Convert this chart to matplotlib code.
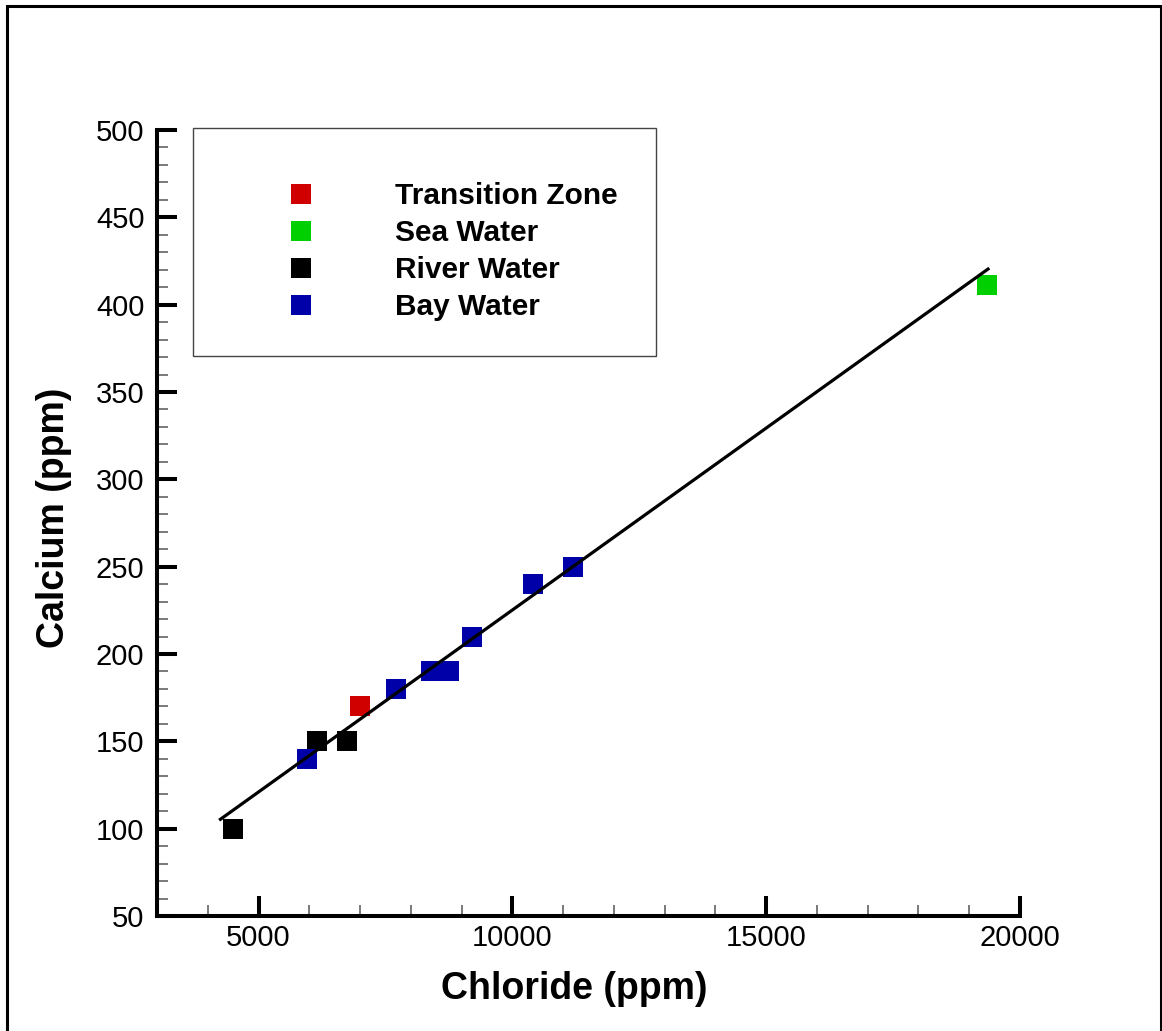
import matplotlib
matplotlib.use("Agg")
import matplotlib.pyplot as plt
from matplotlib.patches import Rectangle
from matplotlib.ticker import MultipleLocator

plt.rcParams["font.family"] = ["Liberation Sans", "DejaVu Sans"]

# samples: chloride (ppm) vs calcium (ppm)
transition_cl = [7000]
transition_ca = [170]
sea_cl = [19350]
sea_ca = [411]
river_cl = [4500, 6150, 6750]
river_ca = [100, 150, 150]
bay_cl = [5950, 7700, 8400, 8750, 9200, 10400, 11200]
bay_ca = [140, 180, 190, 190, 210, 240, 250]

# trend line end points
fit_cl = [4250, 19370]
fit_ca = [105.4, 420.4]

groups = [
    ("Transition Zone", transition_cl, transition_ca, "#d00000"),
    ("Sea Water", sea_cl, sea_ca, "#00d000"),
    ("River Water", river_cl, river_ca, "#000000"),
    ("Bay Water", bay_cl, bay_ca, "#0000a8"),
]

fig = plt.figure(figsize=(11.62, 10.31), dpi=100)
ax = fig.add_axes([0.1351, 0.1115, 0.7427, 0.7624])

for name, xs, ys, color in groups:
    ax.plot(xs, ys, linestyle="none", marker="s", markersize=15.1,
            markeredgewidth=0, color=color, label=name, zorder=2)

ax.plot(fit_cl, fit_ca, color="black", linewidth=2.3, zorder=3)

ax.set_xlim(3000, 20000)
ax.set_ylim(50, 500)
ax.xaxis.set_major_locator(MultipleLocator(5000))
ax.xaxis.set_minor_locator(MultipleLocator(1000))
ax.yaxis.set_major_locator(MultipleLocator(50))
ax.yaxis.set_minor_locator(MultipleLocator(10))

for side in ["top", "right"]:
    ax.spines[side].set_visible(False)
for side in ["left", "bottom"]:
    ax.spines[side].set_linewidth(2.9)

ax.tick_params(which="major", direction="in", length=14.4, width=2.9,
               labelsize=21)
ax.tick_params(axis="y", which="major", pad=9)
ax.tick_params(axis="x", which="major", pad=6)
ax.tick_params(which="minor", direction="in", length=8, width=1.1,
               color="#555555")

ax.set_xlabel("Chloride (ppm)", fontsize=27, fontweight="bold")
ax.set_ylabel("Calcium (ppm)", fontsize=27, fontweight="bold")
ax.xaxis.set_label_coords(0.484, -0.070)
ax.yaxis.set_label_coords(-0.098, 0.506)

# legend box
ax.add_patch(Rectangle((0.0417, 0.7125), 0.5365, 0.29, transform=ax.transAxes,
                       fill=False, edgecolor="#444444", linewidth=1,
                       clip_on=False, zorder=4))
ax.legend(loc="center left", bbox_to_anchor=(0.1495, 0.845), frameon=False,
          borderpad=0, borderaxespad=0, handlelength=1.0, handletextpad=2.65,
          labelspacing=0.3, prop={"size": 21.5, "weight": "bold"})

# outer frame around the figure
fig.patches.append(Rectangle((0.0056, -0.05), 0.9935, 1.0442,
                             transform=fig.transFigure, fill=False,
                             edgecolor="black", linewidth=2.2))

fig.savefig("out.png", dpi=100)
